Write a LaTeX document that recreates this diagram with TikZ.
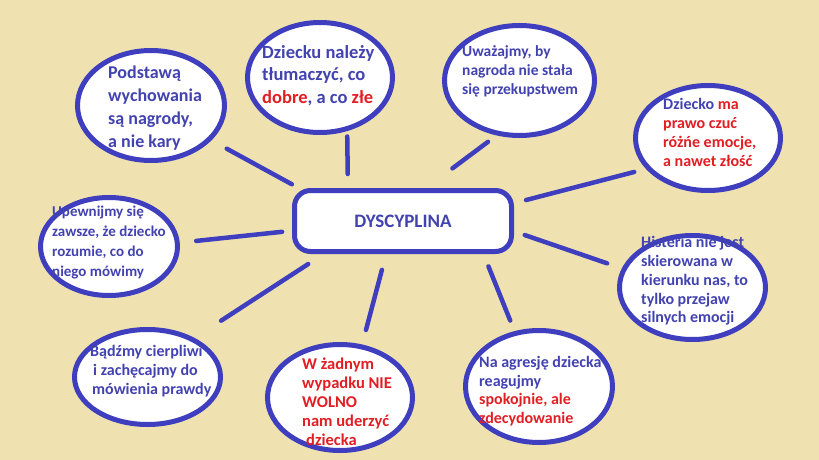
\documentclass[tikz,border=0pt]{standalone}
\usepackage{fontspec}
\setmainfont{Carlito}
\usetikzlibrary{shapes,calc}

\definecolor{paper}{RGB}{239,226,176}
\definecolor{ink}{RGB}{62,62,190}
\definecolor{txtblue}{RGB}{66,66,176}
\definecolor{txtred}{RGB}{226,30,36}
\newcommand{\rd}[1]{\textcolor{txtred}{#1}}

\begin{document}
\begin{tikzpicture}[x=1pt,y=-1pt,
  bubble/.style={ellipse, draw=ink, line width=5pt, fill=white, inner sep=0pt, outer sep=0pt},
  hub/.style={rectangle, rounded corners=16pt, draw=ink, line width=5pt, fill=white, outer sep=0pt,
    minimum width=217pt, minimum height=61pt, text=txtblue, font=\bfseries\fontsize{19}{22}\selectfont},
  link/.style={draw=ink, line width=4.5pt, line cap=round},
  txt/.style={anchor=west, align=left, inner sep=0pt, text=txtblue}]

\fill[paper] (0,0) rectangle (819,460);
\useasboundingbox (0,0) rectangle (819,460);

% Centre
\node[hub] (discipline) at (403,221) {DYSCYPLINA\hspace{16pt}};

% Bubbles
\node[bubble, minimum width=147pt, minimum height=110pt] (rewards) at (151,105.5) {};
\node[bubble, minimum width=145pt, minimum height=110pt] (explain) at (320,77.5) {};
\node[bubble, minimum width=150pt, minimum height=110pt] (bribe) at (519.5,80.5) {};
\node[bubble, minimum width=145pt, minimum height=105pt] (emotions) at (708,138) {};
\node[bubble, minimum width=137pt, minimum height=98pt] (understand) at (109,246.5) {};
\node[bubble, minimum width=146pt, minimum height=104pt] (hysteria) at (692.5,287.5) {};
\node[bubble, minimum width=146pt, minimum height=95pt] (patience) at (147.5,377) {};
\node[bubble, minimum width=145pt, minimum height=106pt] (nohit) at (340,397.5) {};
\node[bubble, minimum width=147pt, minimum height=112pt] (aggression) at (539,386.5) {};

% Texts
\node[txt, font=\bfseries\fontsize{18}{23}\selectfont] (rewards-t) at (108,108) {Podstawą\\wychowania\\są nagrody,\\a nie kary};
\node[txt, font=\bfseries\fontsize{18.5}{22.5}\selectfont] (explain-t) at (262,75.5) {Dziecku należy\\tłumaczyć, co\\\rd{dobre}, a co \rd{złe}};
\node[txt, font=\bfseries\fontsize{15.5}{19}\selectfont] (bribe-t) at (462,71) {Uważajmy, by\\nagroda nie stała\\się przekupstwem};
\node[txt, font=\bfseries\fontsize{16}{19}\selectfont] (emotions-t) at (663,132) {Dziecko \rd{ma}\\\rd{prawo czuć}\\\rd{różńe emocje,}\\\rd{a nawet złość}};
\node[txt, font=\bfseries\fontsize{15}{19.7}\selectfont] (understand-t) at (52,242.5) {Upewnijmy się\\zawsze, że dziecko\\rozumie, co do\\niego mówimy};
\node[txt, font=\bfseries\fontsize{16}{18.8}\selectfont] (hysteria-t) at (641,281) {Histeria nie jest\\skierowana w\\kierunku nas, to\\tylko przejaw\\silnych emocji};
\node[txt, font=\bfseries\fontsize{16}{19}\selectfont] (patience-t) at (90,371) {Bądźmy cierpliwi\\\hspace{3pt}i zachęcajmy do\\\hspace{2pt}mówienia prawdy};
\node[txt, text=txtred, font=\bfseries\fontsize{16.5}{19}\selectfont] (nohit-t) at (302,401.5) {W żadnym\\wypadku NIE\\WOLNO\\nam uderzyć\\\hspace{4pt}dziecka};
\node[txt, font=\bfseries\fontsize{16}{18.7}\selectfont] (aggression-t) at (479,391) {Na agresję dziecka\\reagujmy\\\rd{spokojnie, ale}\\\rd{zdecydowanie}};

% Links
\draw[link, shorten <=20pt, shorten >=13pt] (rewards.-30.3) -- (discipline.163.4);
\draw[link, shorten <=8pt, shorten >=16.5pt] (explain.-62.1) -- (discipline.151.4);
\draw[link, shorten <=14pt, shorten >=37pt] (bribe.-111.4) -- (discipline.57.1);
\draw[link, shorten <=15pt, shorten >=15pt] (emotions.-153.4) -- (discipline.9.9);
\draw[link, shorten <=19pt, shorten >=12.5pt] (understand.3.8) -- (discipline.185.1);
\draw[link, shorten <=18pt, shorten >=14pt] (hysteria.165.2) -- (discipline.-5.7);
\draw[link, shorten <=34.5pt, shorten >=23pt] (patience.40.3) -- (discipline.-158.1);
\draw[link, shorten <=17.5pt, shorten >=19pt] (nohit.67.5) -- (discipline.-118.4);
\draw[link, shorten <=14pt, shorten >=16pt] (aggression.114.1) -- (discipline.-21.6);

\end{tikzpicture}
\end{document}
